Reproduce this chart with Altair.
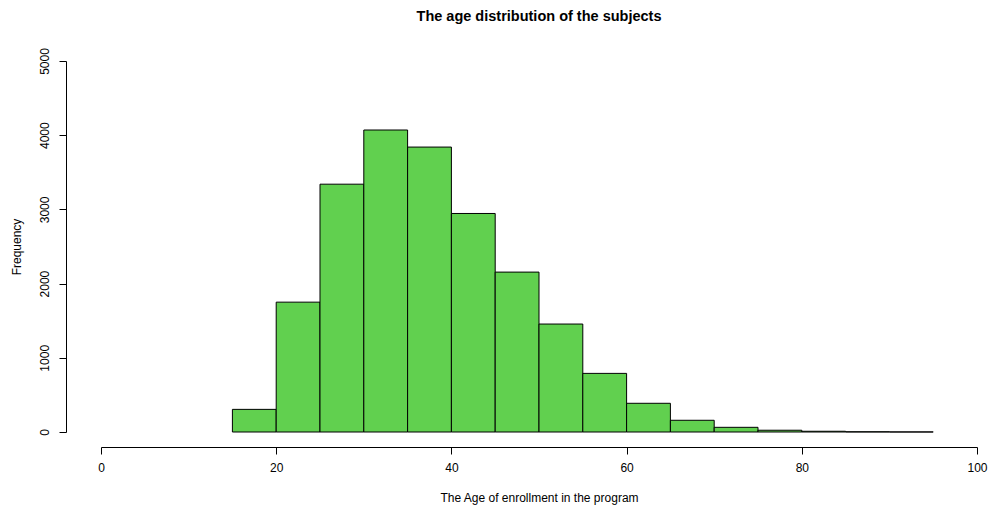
import altair as alt
import pandas as pd

bin_start = [15, 20, 25, 30, 35, 40, 45, 50, 55, 60, 65, 70, 75, 80, 85, 90]
bin_width = 5
counts = [305, 1750, 3340, 4070, 3840, 2945, 2155, 1455, 790, 387, 158, 63, 24, 10, 3, 1]

df = pd.DataFrame({
    "start": bin_start,
    "end": [s + bin_width for s in bin_start],
    "count": counts,
    "zero": [0] * len(bin_start),
})

FONT = "Liberation Sans"

bars = alt.Chart(df).mark_rect(
    color="#61D04F", stroke="black", strokeWidth=1, opacity=1
).encode(
    x=alt.X("start:Q",
            scale=alt.Scale(domain=[0, 100], nice=False, zero=False),
            axis=alt.Axis(values=[0, 20, 40, 60, 80, 100], title="The Age of enrollment in the program",
                          offset=15, tickSize=7, labelPadding=8, titlePadding=19, format="d",
                          grid=False, domainColor="#000000", tickColor="#000000",
                          labelFontSize=12, titleFontSize=12, labelFont=FONT, titleFont=FONT,
                          labelColor="#000000", titleColor="#000000", titleFontWeight="normal",
                          labelFlush=False)),
    x2="end:Q",
    y=alt.Y("count:Q",
            scale=alt.Scale(domain=[0, 5000], nice=False),
            axis=alt.Axis(values=[0, 1000, 2000, 3000, 4000, 5000], title="Frequency",
                          offset=35, tickSize=7, labelPadding=8, titlePadding=15, format="d",
                          labelAngle=-90, labelAlign="center", labelBaseline="bottom",
                          grid=False, domainColor="#000000", tickColor="#000000",
                          labelFontSize=12, titleFontSize=12, labelFont=FONT, titleFont=FONT,
                          labelColor="#000000", titleColor="#000000", titleFontWeight="normal",
                          labelFlush=False)),
    y2="zero:Q",
)

chart = bars.properties(
    width=876,
    height=371,
    title=alt.TitleParams("The age distribution of the subjects", font=FONT, fontSize=14.5,
                          fontWeight="bold", color="#000000", anchor="middle", offset=23),
    autosize=alt.AutoSizeParams(type="none"),
    padding={"left": 101, "top": 61, "right": 11, "bottom": 76},
).configure_view(stroke=None)

chart.save("out.html", embed_options={"renderer": "svg", "actions": False})
